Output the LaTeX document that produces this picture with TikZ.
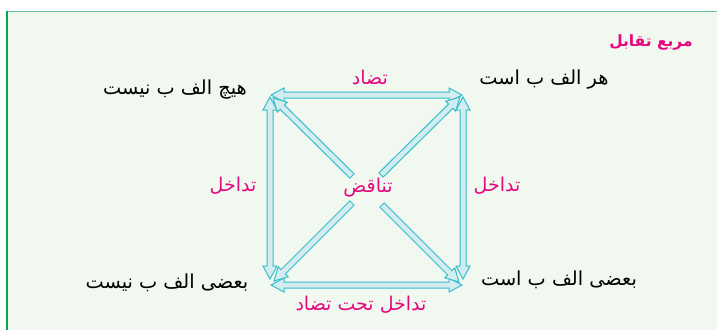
\documentclass[tikz,border=0pt]{standalone}
\usepackage{fontspec}
\usetikzlibrary{calc}
\TeXXeTstate=1
\newfontfamily\arabicfont[Script=Arabic]{DejaVu Sans}
\definecolor{bgc}{HTML}{F1F8F0}
\definecolor{leftc}{HTML}{00A651}
\definecolor{topc}{HTML}{6CC397}
\definecolor{arrline}{HTML}{33BFCC}
\definecolor{arrfill}{HTML}{D4ECEF}
\definecolor{pinkc}{HTML}{E5097F}
\tikzset{
  fatarrow/.style={draw=arrline, fill=arrfill, line width=1pt, line join=miter},
  prop/.style={font=\arabicfont\fontsize{19.3}{22}\selectfont, text=black, inner sep=0pt},
  rel/.style={font=\arabicfont\fontsize{19}{22}\selectfont, text=pinkc, inner sep=0pt},
  ttl/.style={font=\arabicfont\bfseries\fontsize{15.5}{18}\selectfont, text=pinkc, inner sep=0pt}
}
\newcommand\dblarrow[2]{%
  \filldraw[fatarrow] (#1) -- ($(#1)!13pt!(#2)!7pt!90:(#2)$) -- ($(#1)!13pt!(#2)!3pt!90:(#2)$)
   -- ($(#2)!13pt!(#1)!3pt!-90:(#1)$) -- ($(#2)!13pt!(#1)!7pt!-90:(#1)$) -- (#2)
   -- ($(#2)!13pt!(#1)!7pt!90:(#1)$) -- ($(#2)!13pt!(#1)!3pt!90:(#1)$)
   -- ($(#1)!13pt!(#2)!3pt!-90:(#2)$) -- ($(#1)!13pt!(#2)!7pt!-90:(#2)$) -- cycle;}
\newcommand\sglarrow[2]{%
  \filldraw[fatarrow] ($(#1)!3pt!90:(#2)$) -- ($(#2)!13pt!(#1)!3pt!-90:(#1)$)
   -- ($(#2)!13pt!(#1)!7pt!-90:(#1)$) -- (#2) -- ($(#2)!13pt!(#1)!7pt!90:(#1)$)
   -- ($(#2)!13pt!(#1)!3pt!90:(#1)$) -- ($(#1)!3pt!-90:(#2)$) -- cycle;}
\begin{document}
\begin{tikzpicture}[x=1pt,y=-1pt]
\useasboundingbox (0,0) rectangle (717,330);
\fill[bgc] (6,11) rectangle (717,330);
\draw[topc, line width=1pt] (6,11.5) -- (717,11.5);
\draw[leftc, line width=2.2pt] (7,11) -- (7,330);
% arrow end points
\coordinate (tA) at (271,95);
\coordinate (tB) at (462,95);
\coordinate (bA) at (271,285);
\coordinate (bB) at (462,285);
\coordinate (lA) at (270,97);
\coordinate (lB) at (270,279);
\coordinate (rA) at (463,97);
\coordinate (rB) at (463,279);
\coordinate (d1t) at (352,176);
\coordinate (d1h) at (273,98);
\coordinate (d2t) at (381,175);
\coordinate (d2h) at (460,97);
\coordinate (d3t) at (352,203);
\coordinate (d3h) at (274,281);
\coordinate (d4t) at (382,205);
\coordinate (d4h) at (459,282);
\dblarrow{lA}{lB}
\dblarrow{rA}{rB}
\dblarrow{tA}{tB}
\dblarrow{bA}{bB}
\sglarrow{d1t}{d1h}
\sglarrow{d2t}{d2h}
\sglarrow{d3t}{d3h}
\sglarrow{d4t}{d4h}
% texts
\node[ttl] (title) at (651,43) {\beginR مربع تقابل\endR};
\node[prop] (har) at (544,80) {\beginR هر الف ب است\endR};
\node[prop] (hich) at (175,90) {\beginR هیچ الف ب نیست\endR};
\node[prop] (bnist) at (167,283) {\beginR بعضی الف ب نیست\endR};
\node[prop] (bast) at (559,280) {\beginR بعضی الف ب است\endR};
\node[rel] (tazad) at (370,77) {\beginR تضاد\endR};
\node[rel] (tdl) at (233,186) {\beginR تداخل\endR};
\node[rel] (tdr) at (497,186) {\beginR تداخل\endR};
\node[rel] (tanaqoz) at (368,188) {\beginR تناقض\endR};
\node[rel] (taht) at (361,305) {\beginR تداخل تحت تضاد\endR};
\end{tikzpicture}
\end{document}
